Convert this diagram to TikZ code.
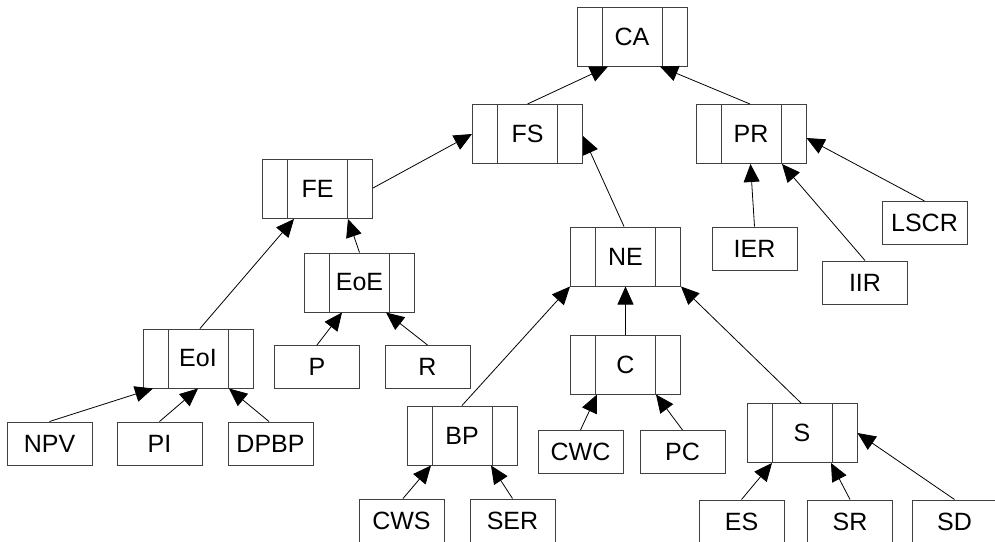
\documentclass[tikz,border=0pt]{standalone}
\usepackage{fontspec}
\setmainfont{Liberation Sans}
\usetikzlibrary{arrows.meta}
\begin{document}
\begin{tikzpicture}[x=1pt,y=-1pt,
  every node/.style={font=\fontsize{25}{25}\selectfont, inner sep=0pt},
  boxline/.style={draw=black!75, line width=1pt},
  compound/.style={boxline, minimum width=110pt, minimum height=59pt,
    path picture={
      \draw[boxline] ([xshift=25pt]path picture bounding box.north west) -- ([xshift=25pt]path picture bounding box.south west);
      \draw[boxline] ([xshift=-25pt]path picture bounding box.north east) -- ([xshift=-25pt]path picture bounding box.south east);
    }},
  leaf/.style={boxline, minimum width=85pt, minimum height=43pt},
  arr/.style={draw=black, line width=0.8pt, -{Triangle[length=18pt,width=16pt]}}
]
\fill[white] (0,0) rectangle (995,541);
\useasboundingbox (0,0) rectangle (995,541);

% compound nodes
\node[compound] (CA)  at (632,36.5)   {CA};
\node[compound] (FS)  at (527.5,134)  {FS};
\node[compound] (PR)  at (751,134)    {PR};
\node[compound] (FE)  at (317.5,189)  {FE};
\node[compound] (EoE) at (359.5,282.5){EoE};
\node[compound] (NE)  at (625.5,256.5){NE};
\node[compound] (EoI) at (198,358.5)  {EoI};
\node[compound] (C)   at (625.5,364.5){C};
\node[compound] (BP)  at (462,435.5)  {BP};
\node[compound] (S)   at (802,433)    {S};

% leaf nodes
\node[leaf] (P)    at (317,367)     {P};
\node[leaf] (R)    at (427.5,367)   {R};
\node[leaf] (NPV)  at (49.5,443.5)  {NPV};
\node[leaf] (PI)   at (159.5,443.5) {PI};
\node[leaf] (DPBP) at (270.5,443.5) {DPBP};
\node[leaf] (CWC)  at (580.5,452)   {CWC};
\node[leaf] (PC)   at (682.5,452)   {PC};
\node[leaf] (CWS)  at (401.5,520.5) {CWS};
\node[leaf] (SER)  at (512.5,520.5) {SER};
\node[leaf] (ES)   at (741.5,521.5) {ES};
\node[leaf] (SR)   at (850,521.5)   {SR};
\node[leaf] (SD)   at (954.5,521.5) {SD};
\node[leaf] (IER)  at (754.5,248.5) {IER};
\node[leaf] (IIR)  at (865,282.5)   {IIR};
\node[leaf] (LSCR) at (924.5,223)   {LSCR};

% connectors
\draw[arr] (FS.north) -- ([xshift=-24pt]CA.south);
\draw[arr] ([xshift=-1pt]PR.north) -- ([xshift=28pt]CA.south);
\draw[arr] ([yshift=1pt]FE.east) -- (FS.west);
\draw[arr] ([xshift=-1.5pt]NE.north) -- ([yshift=-2pt]FS.east);
\draw[arr] ([xshift=2pt]EoI.north) -- ([xshift=-23.5pt]FE.south);
\draw[arr] (EoE.north) -- ([xshift=30.5pt]FE.south);
\draw[arr] (P.north) -- ([xshift=-17.5pt]EoE.south);
\draw[arr] (R.north) -- ([xshift=26.5pt]EoE.south);
\draw[arr] (NPV.north) -- ([xshift=-45pt]EoI.south);
\draw[arr] (PI.north) -- (EoI.south);
\draw[arr] ([xshift=-1.5pt]DPBP.north) -- ([xshift=31pt]EoI.south);
\draw[arr] (BP.north) -- (NE.south west);
\draw[arr] (C.north) -- (NE.south);
\draw[arr] ([xshift=-1pt]S.north) -- (NE.south east);
\draw[arr] ([xshift=1.5pt]CWS.north) -- ([xshift=-31pt]BP.south);
\draw[arr] (SER.north) -- ([xshift=29pt]BP.south);
\draw[arr] (CWC.north) -- ([xshift=-28.5pt]C.south);
\draw[arr] (PC.north) -- ([xshift=30.5pt]C.south);
\draw[arr] (ES.north) -- ([xshift=-30pt]S.south);
\draw[arr] (SR.north) -- ([xshift=29pt]S.south);
\draw[arr] (SD.north) -- (S.east);
\draw[arr] (IER.north) -- ([xshift=-0.5pt]PR.south);
\draw[arr] (IIR.north) -- ([xshift=31pt]PR.south);
\draw[arr] (LSCR.north) -- ([yshift=-4pt]PR.east);
\end{tikzpicture}
\end{document}
